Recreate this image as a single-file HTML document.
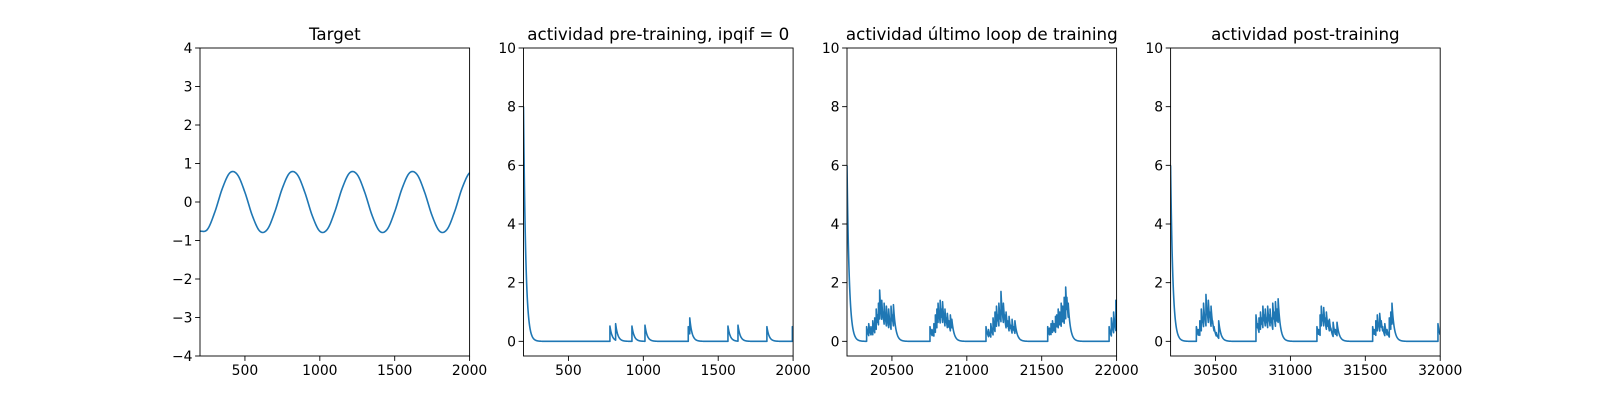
<!DOCTYPE html>
<html><head><meta charset="utf-8"><style>body{margin:0;background:#fff}svg{display:block;font-family:"DejaVu Sans","Liberation Sans",sans-serif}</style></head>
<body>
<svg id="fig" width="1600" height="400"></svg>
<script>
// ---- data ----
const targetX = [];
for (let i = 0; i <= 36; i++) targetX.push(200 + 50 * i);
const targetY = [-0.76,-0.71,-0.25,0.36,0.76,0.71,0.25,-0.36,
 -0.76,-0.71,-0.25,0.36,0.76,0.71,0.25,-0.36,
 -0.76,-0.71,-0.25,0.36,0.76,0.71,0.25,-0.36,
 -0.76,-0.71,-0.25,0.36,0.76,0.71,0.25,-0.36,
 -0.76,-0.71,-0.25,0.36,0.76];
const preT = [200,777,815,924,1011,1300,1310,1565,1632,1825,1995];
const preV = [8,0.52,0.6,0.52,0.55,0.5,0.8,0.52,0.55,0.5,0.5];
const lastT = [20200,
 20331,20345,20360,20372,20385,20395,20403,20410,20418,20425,20432,20440,20448,20455,20463,20470,20478,20486,20494,20502,20510,
 20754,20768,20780,20790,20800,20808,20815,20822,20830,20838,20846,20854,20862,20870,20880,20890,20900,
 21128,21145,21160,21175,21188,21198,21206,21214,21222,21228,21236,21244,21252,21262,21272,21282,21292,21302,21312,21321,
 21540,21552,21562,21572,21582,21592,21600,21610,21620,21630,21640,21650,21660,21668,21677,
 21950,21965,21980,21995];
const lastV = [6,
 0.5,0.6,0.5,0.7,0.8,1.1,0.9,1.3,1.75,1.2,1.4,1.0,1.3,0.9,1.2,0.8,1.1,0.7,1.2,0.9,1.25,
 0.5,0.4,0.6,0.9,1.1,1.3,1.0,1.4,1.1,1.35,0.9,1.1,0.8,0.95,0.7,0.9,0.75,
 0.5,0.4,0.6,0.8,1.0,1.2,0.9,1.3,1.0,1.7,1.1,1.3,0.9,1.0,0.7,0.85,0.55,0.75,0.5,0.7,
 0.5,0.45,0.6,0.7,0.6,0.85,0.9,1.1,1.0,1.3,1.2,1.5,1.85,1.5,1.3,
 0.5,0.8,1.0,1.4];
const postT = [30200,
 30372,30385,30395,30405,30413,30420,30428,30436,30444,30452,30460,30470,30480,30490,30505,30521,
 30770,30780,30790,30800,30808,30816,30824,30832,30840,30848,30856,30864,30872,30882,30890,30900,30910,30918,
 31177,31188,31198,31206,31214,31222,31230,31240,31250,31260,31270,31285,31300,31311,
 31549,31560,31570,31580,31588,31596,31606,31616,31630,31645,31660,31670,31678,
 31985];
const postV = [6,
 0.5,0.4,0.7,1.1,0.8,1.3,0.9,1.6,1.1,1.4,1.0,1.2,0.7,0.5,0.3,0.7,
 0.9,0.6,0.8,1.0,0.8,1.2,0.9,1.1,0.8,1.2,0.9,1.1,0.8,1.3,1.0,1.35,1.1,1.45,
 0.5,0.4,0.9,1.2,0.9,1.15,0.8,1.0,0.7,0.75,0.45,0.65,0.4,0.65,
 0.5,0.4,0.7,0.9,0.6,0.95,0.7,0.5,0.6,0.4,0.8,1.0,1.3,
 0.6];
const ticksX12 = [500,1000,1500,2000];
const ticksX3 = [20500,21000,21500,22000];
const ticksX4 = [30500,31000,31500,32000];
const ticksY1 = [-4,-3,-2,-1,0,1,2,3,4];
const ticksY = [0,2,4,6,8,10];
const titles = ["Target","actividad pre-training, ipqif = 0","actividad último loop de training","actividad post-training"];

const NS="http://www.w3.org/2000/svg", svg=document.getElementById('fig');
function el(t,a,p){const e=document.createElementNS(NS,t);for(const k in a)e.setAttribute(k,a[k]);(p||svg).appendChild(e);return e;}
const TAU=15, COLOR="#1f77b4";
function trace(T,V,x0,x1){const pts=[];for(let i=0;i<T.length;i++){const tEnd=i+1<T.length?T[i+1]:x1;pts.push([T[i],V[i]]);for(let t=T[i]+1;t<tEnd;t+=1)pts.push([t,V[i]*Math.exp(-(t-T[i])/TAU)]);if(i+1<T.length)pts.push([T[i+1],V[i]*Math.exp(-(T[i+1]-T[i])/TAU)]);else pts.push([x1,V[i]*Math.exp(-(x1-T[i])/TAU)]);}return pts;}

const W=269.6, AX_TOP=48, AX_BOT=356;
const lefts=[200,523.5,847,1170.6];
const panels=[
 {x0:200,x1:2000,y0:-4,y1:4,xt:ticksX12,yt:ticksY1,name:'target'},
 {x0:200,x1:2000,y0:-0.5,y1:10,xt:ticksX12,yt:ticksY,name:'pre-training'},
 {x0:20200,x1:22000,y0:-0.5,y1:10,xt:ticksX3,yt:ticksY,name:'last-loop'},
 {x0:30200,x1:32000,y0:-0.5,y1:10,xt:ticksX4,yt:ticksY,name:'post-training'}];
panels.forEach((p,i)=>{
 const L=lefts[i];
 const g=el('g',{});
 
 
 const sx=v=>L+(v-p.x0)/(p.x1-p.x0)*W, sy=v=>AX_BOT-(v-p.y0)/(p.y1-p.y0)*(AX_BOT-AX_TOP);
 const cp=el('clipPath',{id:'c'+i},g);el('rect',{x:L,y:AX_TOP,width:W,height:AX_BOT-AX_TOP},cp);
 let pts;
 if(i===0){pts=[];for(let k=0;k<targetX.length-1;k++){const p0=targetY[Math.max(k-1,0)],p1=targetY[k],p2=targetY[k+1],p3=targetY[Math.min(k+2,targetY.length-1)];for(let s=0;s<10;s++){const u=s/10;const y=0.5*((2*p1)+(-p0+p2)*u+(2*p0-5*p1+4*p2-p3)*u*u+(-p0+3*p1-3*p2+p3)*u*u*u);pts.push([targetX[k]+50*u,y]);}}pts.push([targetX[targetX.length-1],targetY[targetY.length-1]]);}
 else if(i===1)pts=trace(preT,preV,p.x0,p.x1);
 else if(i===2)pts=trace(lastT,lastV,p.x0,p.x1);
 else pts=trace(postT,postV,p.x0,p.x1);
 const line=el('polyline',{points:pts.map(q=>sx(q[0]).toFixed(2)+','+sy(q[1]).toFixed(2)).join(' '),fill:'none',stroke:COLOR,'stroke-width':1.6,'stroke-linejoin':'round','clip-path':'url(#c'+i+')'},g);
 
 
 const fr=el('rect',{x:L,y:AX_TOP,width:W,height:AX_BOT-AX_TOP,fill:'none',stroke:'#000','stroke-width':0.9},g);
 
 
 p.xt.forEach(v=>{const x=sx(v);el('line',{x1:x,x2:x,y1:AX_BOT,y2:AX_BOT+4.9,stroke:'#000','stroke-width':0.9},g);const t=el('text',{x:x,y:AX_BOT+19,'font-size':13.9,'text-anchor':'middle'},g);t.textContent=v;
  
  });
 p.yt.forEach(v=>{const y=sy(v);el('line',{x1:L-4.9,x2:L,y1:y,y2:y,stroke:'#000','stroke-width':0.9},g);const t=el('text',{x:L-7.5,y:y+5,'font-size':13.9,'text-anchor':'end'},g);t.textContent=v<0?'\u2212'+(-v):v;
  
  });
 const tt=el('text',{x:L+W/2,y:40,'font-size':16.7,'text-anchor':'middle'},g);tt.textContent=titles[i];
 
 
});
</script>
</body></html>
